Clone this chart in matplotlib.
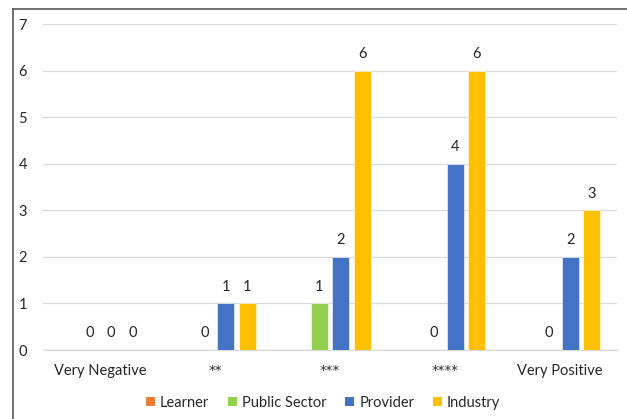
import matplotlib
matplotlib.use("Agg")
import matplotlib.pyplot as plt
from matplotlib.lines import Line2D
from matplotlib.patches import Patch
import numpy as np

plt.rcParams['font.family'] = ['Lato', 'DejaVu Sans']

categories = ["Very Negative", "**", "***", "****", "Very Positive"]
series_names = ["Learner", "Public Sector", "Provider", "Industry"]
learner = [None, None, None, None, None]
public_sector = [0, 0, 1, 0, 0]
provider = [0, 1, 2, 4, 2]
industry = [0, 1, 6, 6, 3]
y_ticks = [0, 1, 2, 3, 4, 5, 6, 7]

colors = ["#ED7D31", "#92D050", "#4472C4", "#FFC000"]
series = [learner, public_sector, provider, industry]

W, H = 627, 419
fig = plt.figure(figsize=(W / 100, H / 100), dpi=100)
ax = fig.add_axes([43 / W, 1 - 350 / H, (617 - 43) / W, (350 - 24) / H])

x = np.arange(len(categories))
step = 0.186
width = 0.148
text_color = "#262626"
for i, (vals, col) in enumerate(zip(series, colors)):
    off = (i - 1.5) * step
    for xi, v in zip(x, vals):
        if v is None:
            continue
        ax.bar(xi + off, v, width=width, color=col, edgecolor="white",
               linewidth=0.4, zorder=3)
        ax.annotate(str(v), (xi + off, v), xytext=(0, 7),
                    textcoords="offset points", ha="center", va="bottom",
                    fontsize=10.5, color=text_color)

ax.set_xlim(-0.5, len(categories) - 0.5)
ax.set_ylim(0, 7)
ax.set_yticks(y_ticks)
ax.set_xticks(x)
ax.set_xticklabels(categories)
ax.tick_params(axis="both", length=0, labelsize=10.5, labelcolor=text_color)
ax.tick_params(axis="y", pad=11.5)
ax.tick_params(axis="x", pad=10)
for lbl in ax.get_xticklabels():
    if lbl.get_text().startswith("*"):
        lbl.set_fontfamily("DejaVu Sans")
        lbl.set_fontsize(9.5)
ax.grid(axis="y", color="#D9D9D9", linewidth=0.9, zorder=0)
for s in ["left", "right", "top"]:
    ax.spines[s].set_visible(False)
ax.spines["bottom"].set_color("#D9D9D9")
ax.spines["bottom"].set_linewidth(0.9)

handles = [Patch(facecolor=c, edgecolor="none") for c in colors]
fig.legend(handles, series_names, loc="center", ncol=4,
           bbox_to_anchor=(323 / W, 1 - 403 / H), frameon=False,
           fontsize=10.5, handlelength=0.6, handleheight=0.6,
           handletextpad=0.35, columnspacing=1.3, labelcolor=text_color)

# chart frame
fig.add_artist(Line2D([12.5 / W, 12.5 / W], [0, 1 - 9.5 / H],
                      transform=fig.transFigure, color="#595959", linewidth=1.2))
fig.add_artist(Line2D([12.5 / W, 1], [1 - 9.5 / H, 1 - 9.5 / H],
                      transform=fig.transFigure, color="#595959", linewidth=1.2))

fig.savefig("out.png", dpi=100)
